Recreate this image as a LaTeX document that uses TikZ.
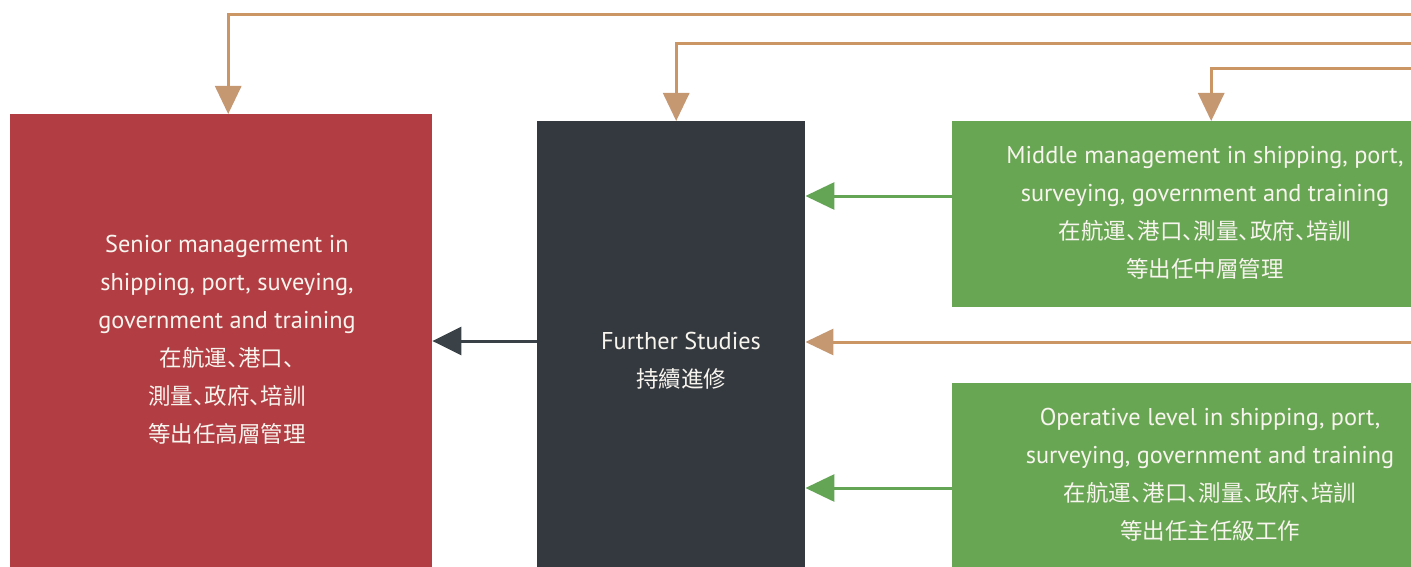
\documentclass[tikz,border=0pt]{standalone}
\usepackage{fontspec}
\setmainfont{PT Sans}
\newfontfamily\cjk[RawFeature=+halt]{Noto Sans CJK SC}
\usetikzlibrary{arrows.meta}
\definecolor{seniorred}{RGB}{178,62,68}
\definecolor{darkbox}{RGB}{52,57,64}
\definecolor{greenbox}{RGB}{104,166,84}
\definecolor{tanline}{RGB}{204,150,100}
\definecolor{tanhead}{RGB}{198,152,114}
\definecolor{greenline}{RGB}{100,165,85}
\definecolor{darkline}{RGB}{58,66,72}
\definecolor{txtwhite}{RGB}{248,244,238}
\begin{document}
\begin{tikzpicture}[x=1pt,y=-1pt,
  box/.style={rectangle,draw=none,anchor=north west,inner sep=0pt},
  txt/.style={text=txtwhite,align=center,inner sep=0pt,font=\fontsize{24.3}{38}\selectfont},
  feed/.style={line width=3pt,draw=tanline,-{Triangle[length=28pt,width=26pt,color=tanhead]}},
  greenarr/.style={line width=3pt,draw=greenline,-{Triangle[length=29pt,width=27pt,color=greenline]}},
  darkarr/.style={line width=3pt,draw=darkline,-{Triangle[length=29pt,width=28pt,color=darkline]}}]
\useasboundingbox (0,0) rectangle (1411,567);
\clip (0,0) rectangle (1411,567);
\fill[white] (0,0) rectangle (1411,567);

\node[box,fill=seniorred,minimum width=422pt,minimum height=460pt] (senior) at (10,114) {};
\node[box,fill=darkbox,minimum width=268pt,minimum height=455pt] (further) at (537,121) {};
\node[box,fill=greenbox,minimum width=510pt,minimum height=186pt] (middle) at (952,121) {};
\node[box,fill=greenbox,minimum width=510pt,minimum height=190pt] (operative) at (952,383) {};

\node[txt] (senior-t) at (227,340) {Senior managerment in\\shipping, port, suveying,\\government and training\\{\cjk\fontsize{22.5}{38}\selectfont 在航運、港口、}\\{\cjk\fontsize{22.5}{38}\selectfont 測量、政府、培訓}\\{\cjk\fontsize{22.5}{38}\selectfont 等出任高層管理}};
\node[txt] (further-t) at (681,361) {Further Studies\\{\cjk\fontsize{22.5}{38}\selectfont 持續進修}};
\node[txt] (middle-t) at (1205,213) {Middle management in shipping, port,\\surveying, government and training\\{\cjk\fontsize{22.5}{38}\selectfont 在航運、港口、測量、政府、培訓}\\{\cjk\fontsize{22.5}{38}\selectfont 等出任中層管理}};
\node[txt] (operative-t) at (1210,475) {Operative level in shipping, port,\\surveying, government and training\\{\cjk\fontsize{22.5}{38}\selectfont 在航運、港口、測量、政府、培訓}\\{\cjk\fontsize{22.5}{38}\selectfont 等出任主任級工作}};

\coordinate (e1) at (1420,15);
\coordinate (e2) at (1420,44);
\coordinate (e3) at (1420,69);
\coordinate (e4) at (1420,342);
\coordinate (y1) at (0,196);
\coordinate (y2) at (0,341);
\coordinate (y3) at (0,488);

\draw[feed] (e1) -| ([xshift=7pt]senior.north);
\draw[feed] (e2) -| ([xshift=5pt]further.north);
\draw[feed] (e3) -| ([xshift=4pt]middle.north);
\draw[feed] (e4) -- (further.east |- e4);
\draw[greenarr] (middle.west |- y1) -- (further.east |- y1);
\draw[greenarr] (operative.west |- y3) -- (further.east |- y3);
\draw[darkarr] (further.west |- y2) -- (senior.east |- y2);
\end{tikzpicture}
\end{document}
